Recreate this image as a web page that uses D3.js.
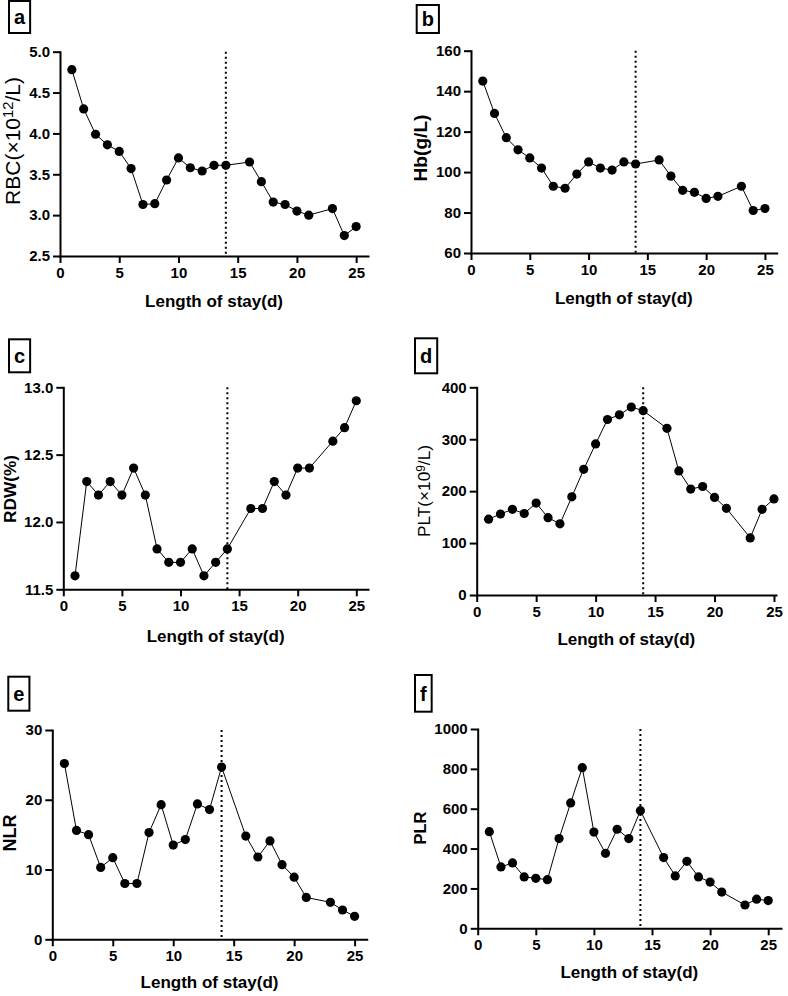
<!DOCTYPE html>
<html><head><meta charset="utf-8">
<script src="https://cdn.jsdelivr.net/npm/d3@7"></script>
<style>
body{margin:0;background:#fff}
svg{display:block}
text{font-family:"Liberation Sans",Arial,Helvetica,sans-serif;fill:#000}
</style>
</head><body>
<svg id="chart" width="788" height="996"></svg>
<script>
// ---------- data ----------
const days = [1,2,3,4,5,6,7,8,9,10,11,12,13,14,16,17,18,19,20,21,23,24,25];
const rbc = [4.78,4.30,3.99,3.86,3.78,3.57,3.13,3.14,3.43,3.70,3.58,3.54,3.61,3.61,3.65,3.41,3.16,3.13,3.05,3.00,3.08,2.75,2.86];
const hb  = [145,129,117,111,107,102,93,92,99,105,102,101,105,104,106,98,91,90,87,88,93,81,82];
const rdw = [11.6,12.3,12.2,12.3,12.2,12.4,12.2,11.8,11.7,11.7,11.8,11.6,11.7,11.8,12.1,12.1,12.3,12.2,12.4,12.4,12.6,12.7,12.9];
const plt = [146,156,165,157,177,149,137,189,242,291,338,347,362,355,321,239,204,209,188,167,110,165,185];
const nlr = [25.2,15.6,15.0,10.3,11.7,8.0,8.0,15.3,19.3,13.5,14.3,19.4,18.6,24.7,14.8,11.8,14.1,10.7,8.9,6.0,5.3,4.2,3.3];
const plr = [485,308,328,258,251,244,450,629,806,483,376,497,450,590,355,263,336,258,232,182,117,146,139];

const xTicks   = [0,5,10,15,20,25];
const rbcTicks = [2.5,3.0,3.5,4.0,4.5,5.0];
const hbTicks  = [60,80,100,120,140,160];
const rdwTicks = [11.5,12.0,12.5,13.0];
const pltTicks = [0,100,200,300,400];
const nlrTicks = [0,10,20,30];
const plrTicks = [0,200,400,600,800,1000];
const cutoffDay = 14;
const xTitle = "Length of stay(d)";

// ---------- layout ----------
const panels = [
  {letter:"a", vals:rbc, ticks:rbcTicks, fmt:d3.format(".1f"),
   title:[["RBC(×10",0],["12",1],["/L)",0]], bold:false,
   x0:60, x1:368, yTop:51.7, yBot:256, xMax:26,
   box:[9,1,32], tC:[12,141], tLen:128, xTB:307},
  {letter:"b", vals:hb, ticks:hbTicks, fmt:d3.format("d"),
   title:[["Hb(g/L)",0]], bold:true,
   x0:471, x1:776.7, yTop:50.7, yBot:253, xMax:26,
   box:[416.7,5,28], tC:[420,148], tLen:67, xTB:304},
  {letter:"c", vals:rdw, ticks:rdwTicks, fmt:d3.format(".1f"),
   title:[["RDW(%)",0]], bold:true,
   x0:63.3, x1:368, yTop:387.3, yBot:589.3, xMax:26,
   box:[9,339.3,33], tC:[10,489], tLen:68, xTB:642},
  {letter:"d", vals:plt, ticks:pltTicks, fmt:d3.format("d"),
   title:[["PLT(×10",0],["9",1],["/L)",0]], bold:false,
   x0:476.7, x1:776, yTop:387.3, yBot:595, xMax:25.17,
   box:[415,338.3,35], tC:[424,491], tLen:92, xTB:645},
  {letter:"e", vals:nlr, ticks:nlrTicks, fmt:d3.format("d"),
   title:[["NLR",0]], bold:true,
   x0:52.3, x1:366.7, yTop:730, yBot:939.3, xMax:26,
   box:[8.3,676.7,34], tC:[9.5,833], tLen:37, xTB:988},
  {letter:"f", vals:plr, ticks:plrTicks, fmt:d3.format("d"),
   title:[["PLR",0]], bold:true,
   x0:477.7, x1:781, yTop:729, yBot:928.3, xMax:26.1,
   box:[415,675,36.7], tC:[420,828], tLen:33, xTB:978}
];

const svg = d3.select("#chart");

panels.forEach(p => {
  const g = svg.append("g");
  const x = d3.scaleLinear().domain([0, p.xMax]).range([p.x0, p.x1]);
  const y = d3.scaleLinear().domain([p.ticks[0], p.ticks[p.ticks.length-1]]).range([p.yBot, p.yTop]);

  // axes
  const yAx = g.append("g").attr("transform", `translate(${p.x0},0)`)
    .call(d3.axisLeft(y).tickValues(p.ticks).tickFormat(p.fmt).tickSize(7).tickSizeOuter(0).tickPadding(3));
  const xAx = g.append("g").attr("transform", `translate(0,${p.yBot})`)
    .call(d3.axisBottom(x).tickValues(xTicks).tickFormat(d3.format("d")).tickSize(7).tickSizeOuter(0).tickPadding(4));
  [yAx, xAx].forEach(a => {
    a.selectAll("path.domain").attr("stroke","#000").attr("stroke-width",2).attr("stroke-linecap","square");
    a.selectAll(".tick line").attr("stroke","#000").attr("stroke-width",2);
    a.selectAll(".tick text").attr("fill","#000").style("font-size","15px").style("font-weight","bold")
      .style("font-family",'"Liberation Sans",Arial,sans-serif');
  });

  // cutoff dotted line
  g.append("line")
    .attr("x1", x(cutoffDay)).attr("x2", x(cutoffDay))
    .attr("y1", p.yTop).attr("y2", p.yBot)
    .attr("stroke","#000").attr("stroke-width",2).attr("stroke-dasharray","2,3");

  // series line and points
  const pts = days.map((d,i) => [d, p.vals[i]]);
  g.append("path").datum(pts)
    .attr("fill","none").attr("stroke","#000").attr("stroke-width",1)
    .attr("d", d3.line().x(d => x(d[0])).y(d => y(d[1])));
  g.selectAll("circle.pt").data(pts).join("circle")
    .attr("class","pt").attr("cx", d => x(d[0])).attr("cy", d => y(d[1]))
    .attr("r", 4.6).attr("fill","#000");

  // x title
  g.append("text").attr("x", (p.x0 + p.x1)/2).attr("y", p.xTB)
    .attr("text-anchor","middle").style("font-size","17px").style("font-weight","bold").text(xTitle);

  // y title (rotated), sized to target length
  const yt = g.append("text")
    .attr("transform", `translate(${p.tC[0]},${p.tC[1]}) rotate(-90)`)
    .attr("text-anchor","middle").attr("dy","0.36em")
    .style("font-size","16px").style("font-weight", p.bold ? "bold" : "normal");
  p.title.forEach(([t, sup]) => {
    const ts = yt.append("tspan").text(t);
    if (sup) ts.attr("dy","-0.45em").style("font-size","0.7em");
  });
  // restore baseline after superscript
  yt.selectAll("tspan").each(function(d, i, nodes) {
    if (i > 0 && p.title[i-1][1] && !p.title[i][1]) d3.select(this).attr("dy","0.315em");
  });
  const len = yt.node().getComputedTextLength();
  const fs = 16 * p.tLen / len;
  yt.style("font-size", fs.toFixed(2) + "px");

  // panel letter in a box
  const lt = g.append("text").attr("y", p.box[1] + p.box[2]/2).attr("dy","0.36em")
    .attr("text-anchor","middle").style("font-size","20px").style("font-weight","bold").text(p.letter);
  const w = lt.node().getComputedTextLength() + 10;
  lt.attr("x", p.box[0] + w/2);
  g.append("rect").attr("x", p.box[0]).attr("y", p.box[1]).attr("width", w).attr("height", p.box[2])
    .attr("fill","none").attr("stroke","#000").attr("stroke-width",2);
});
</script>
</body></html>
